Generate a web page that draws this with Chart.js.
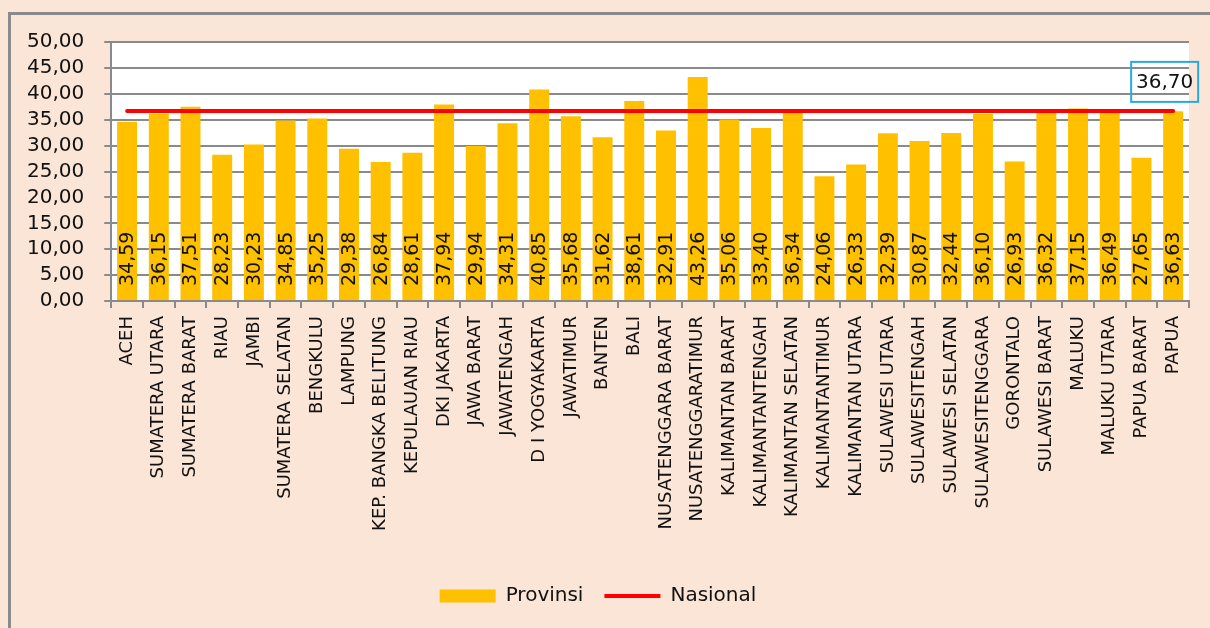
<!DOCTYPE html>
<html>
<head>
<meta charset="utf-8">
<script src="https://cdn.jsdelivr.net/npm/chart.js@4/dist/chart.umd.min.js"></script>
<style>
  html, body { margin: 0; padding: 0; background: #fbe5d6; }
  #wrap { width: 1210px; height: 628px; position: relative; }
</style>
</head>
<body>
<div id="wrap"><canvas id="chart"></canvas></div>
<script>
// ==========================================
// DATA
// ==========================================
const provinces = [
  'ACEH', 'SUMATERA UTARA', 'SUMATERA BARAT', 'RIAU', 'JAMBI',
  'SUMATERA SELATAN', 'BENGKULU', 'LAMPUNG', 'KEP. BANGKA BELITUNG', 'KEPULAUAN RIAU',
  'DKI JAKARTA', 'JAWA BARAT', 'JAWATENGAH', 'D I YOGYAKARTA', 'JAWATIMUR',
  'BANTEN', 'BALI', 'NUSATENGGARA BARAT', 'NUSATENGGARATIMUR', 'KALIMANTAN BARAT',
  'KALIMANTANTENGAH', 'KALIMANTAN SELATAN', 'KALIMANTANTIMUR', 'KALIMANTAN UTARA', 'SULAWESI UTARA',
  'SULAWESITENGAH', 'SULAWESI SELATAN', 'SULAWESITENGGARA', 'GORONTALO', 'SULAWESI BARAT',
  'MALUKU', 'MALUKU UTARA', 'PAPUA BARAT', 'PAPUA'
];

const provinsiValues = [
  34.59, 36.15, 37.51, 28.23, 30.23,
  34.85, 35.25, 29.38, 26.84, 28.61,
  37.94, 29.94, 34.31, 40.85, 35.68,
  31.62, 38.61, 32.91, 43.26, 35.06,
  33.40, 36.34, 24.06, 26.33, 32.39,
  30.87, 32.44, 36.10, 26.93, 36.32,
  37.15, 36.49, 27.65, 36.63
];

const nasionalValue = 36.70;
const nasionalValues = provinces.map(() => nasionalValue);

const yTicks = [0, 5, 10, 15, 20, 25, 30, 35, 40, 45, 50];

// comma decimals like the original
function fmt(v) {
  return v.toFixed(2).replace('.', ',');
}

// ==========================================
// PLUGINS
// ==========================================

// peach background, frame lines and white plot area
const backgroundPlugin = {
  id: 'bg',
  beforeDraw(chart) {
    const ctx = chart.ctx;
    const a = chart.chartArea;
    ctx.save();
    ctx.fillStyle = '#fbe5d6';
    ctx.fillRect(0, 0, chart.width, chart.height);
    ctx.strokeStyle = '#8a8a8a';
    ctx.lineWidth = 3;
    ctx.beginPath();
    ctx.moveTo(9.5, chart.height);
    ctx.lineTo(9.5, 13.5);
    ctx.lineTo(chart.width, 13.5);
    ctx.stroke();
    ctx.fillStyle = '#ffffff';
    ctx.fillRect(a.left, a.top, a.right - a.left, a.bottom - a.top);
    ctx.restore();
  }
};

// vertical value labels inside the bars + the national value box
const labelsPlugin = {
  id: 'valueLabels',
  afterDatasetsDraw(chart) {
    const ctx = chart.ctx;
    const meta = chart.getDatasetMeta(0);
    ctx.save();
    ctx.fillStyle = '#111111';
    ctx.font = '19px "DejaVu Sans"';
    ctx.textAlign = 'left';
    ctx.textBaseline = 'middle';
    meta.data.forEach((bar, i) => {
      ctx.save();
      ctx.translate(bar.x, bar.base - 14);
      ctx.rotate(-Math.PI / 2);
      ctx.fillText(fmt(provinsiValues[i]), 0, 1);
      ctx.restore();
    });

    // box with the national value, above the last point
    const lineMeta = chart.getDatasetMeta(1);
    const last = lineMeta.data[lineMeta.data.length - 1];
    const w = 67, h = 40;
    const bx = last.x - 42;
    const by = last.y - 9 - h;
    ctx.strokeStyle = '#29a9e1';
    ctx.lineWidth = 2;
    ctx.strokeRect(bx, by, w, h);
    ctx.font = '20px "DejaVu Sans"';
    ctx.textAlign = 'center';
    ctx.fillStyle = '#111111';
    ctx.fillText(fmt(nasionalValue), bx + w / 2, by + h / 2 + 1);
    ctx.restore();
  }
};

// ==========================================
// CHART
// ==========================================
const ctx = document.getElementById('chart').getContext('2d');

new Chart(ctx, {
  type: 'bar',
  data: {
    labels: provinces,
    datasets: [
      {
        label: 'Provinsi',
        data: provinsiValues,
        backgroundColor: '#ffc000',
        borderWidth: 0,
        barPercentage: 0.63,
        categoryPercentage: 1.0,
        order: 2
      },
      {
        type: 'line',
        label: 'Nasional',
        data: nasionalValues,
        borderColor: '#ff0000',
        backgroundColor: '#ff0000',
        borderWidth: 4,
        pointRadius: 0,
        borderCapStyle: 'round',
        order: 1
      }
    ]
  },
  options: {
    responsive: true,
    maintainAspectRatio: false,
    animation: false,
    layout: {
      padding: { left: 7, right: 21, top: 42, bottom: 12 }
    },
    plugins: {
      tooltip: { enabled: false },
      legend: {
        position: 'bottom',
        labels: {
          color: '#111111',
          font: { family: 'DejaVu Sans', size: 20 },
          usePointStyle: true,
          pointStyleWidth: 56,
          boxWidth: 56,
          boxHeight: 13,
          padding: 21,
          generateLabels(chart) {
            const items = Chart.defaults.plugins.legend.labels.generateLabels(chart);
            items.sort((a, b) => a.datasetIndex - b.datasetIndex);
            items[0].pointStyle = 'rect';
            items[0].lineWidth = 0;
            items[0].fillStyle = '#ffc000';
            items[1].pointStyle = 'line';
            items[1].lineWidth = 4;
            items[1].strokeStyle = '#ff0000';
            return items;
          }
        }
      }
    },
    scales: {
      x: {
        offset: true,
        border: { color: '#8a8a8a', width: 2 },
        grid: {
          offset: true,
          drawOnChartArea: false,
          drawTicks: true,
          tickLength: 7,
          color: '#8a8a8a',
          lineWidth: 2
        },
        ticks: {
          color: '#111111',
          font: { family: 'DejaVu Sans', size: 18 },
          minRotation: 90,
          maxRotation: 90,
          autoSkip: false,
          padding: 8
        },
        afterFit(axis) {
          // leave a gap between the rotated labels and the legend
          axis.height = 264;
        }
      },
      y: {
        min: 0,
        max: 50,
        afterBuildTicks(axis) {
          axis.ticks = yTicks.map(v => ({ value: v }));
        },
        border: { color: '#8a8a8a', width: 2 },
        grid: {
          color: '#8a8a8a',
          lineWidth: 2,
          tickLength: 7
        },
        ticks: {
          color: '#111111',
          font: { family: 'DejaVu Sans', size: 20 },
          padding: 20,
          autoSkip: false,
          callback: v => fmt(v)
        }
      }
    }
  },
  plugins: [backgroundPlugin, labelsPlugin]
});
</script>
</body>
</html>
